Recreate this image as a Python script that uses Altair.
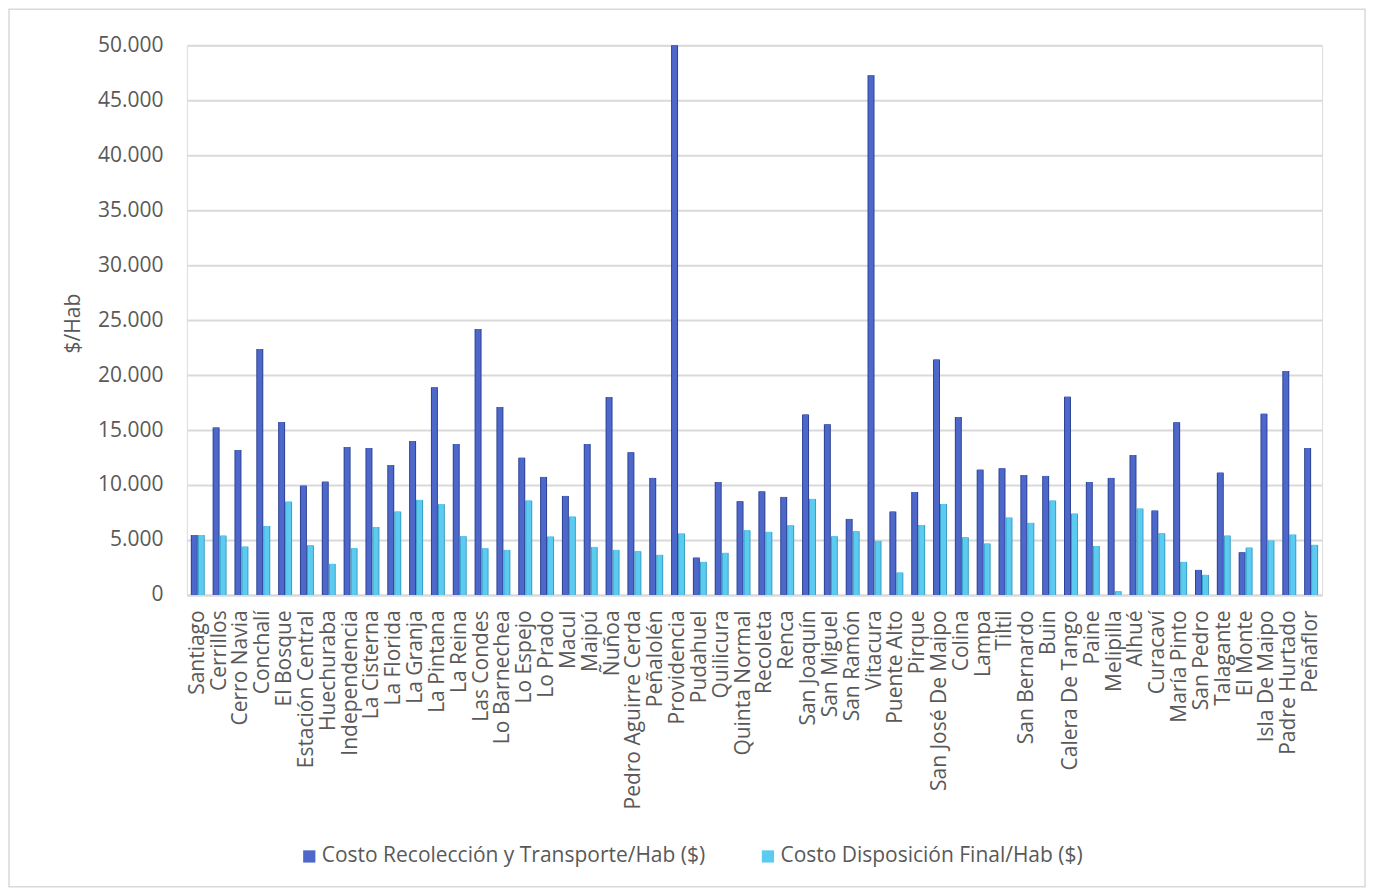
import altair as alt
import pandas as pd

comunas = ["Santiago", "Cerrillos", "Cerro Navia", "Conchalí", "El Bosque", "Estación Central",
           "Huechuraba", "Independencia", "La Cisterna", "La Florida", "La Granja", "La Pintana",
           "La Reina", "Las Condes", "Lo Barnechea", "Lo Espejo", "Lo Prado", "Macul", "Maipú",
           "Ñuñoa", "Pedro Aguirre Cerda", "Peñalolén", "Providencia", "Pudahuel", "Quilicura",
           "Quinta Normal", "Recoleta", "Renca", "San Joaquín", "San Miguel", "San Ramón",
           "Vitacura", "Puente Alto", "Pirque", "San José De Maipo", "Colina", "Lampa", "Tiltil",
           "San Bernardo", "Buin", "Calera De Tango", "Paine", "Melipilla", "Alhué", "Curacaví",
           "María Pinto", "San Pedro", "Talagante", "El Monte", "Isla De Maipo", "Padre Hurtado",
           "Peñaflor"]

recoleccion = [5450, 15240, 13180, 22360, 15730, 9940, 10300, 13450, 13360, 11820, 14000, 18900,
               13730, 24200, 17090, 12480, 10730, 9000, 13730, 18000, 12970, 10640, 50000, 3390,
               10270, 8520, 9420, 8910, 16420, 15520, 6910, 47270, 7580, 9360, 21420, 16180, 11390,
               11520, 10910, 10820, 18030, 10270, 10640, 12730, 7670, 15700, 2270, 11120, 3880,
               16480, 20360, 13360]

disposicion = [5450, 5390, 4390, 6270, 8480, 4510, 2820, 4240, 6180, 7580, 8640, 8240,
               5330, 4240, 4090, 8580, 5300, 7120, 4360, 4090, 3970, 3640, 5580, 3000,
               3820, 5880, 5730, 6330, 8730, 5330, 5790, 4910, 2030, 6360, 8270, 5240, 4670,
               7030, 6550, 8580, 7390, 4450, 330, 7850, 5610, 3000, 1820, 5390, 4300,
               4940, 5480, 4550]

series = ["Costo Recolección y Transporte/Hab ($)", "Costo Disposición Final/Hab ($)"]
y_ticks = [0, 5000, 10000, 15000, 20000, 25000, 30000, 35000, 40000, 45000, 50000]

rows = []
for c, r, d in zip(comunas, recoleccion, disposicion):
    rows.append({"comuna": c, "serie": series[0], "valor": r})
    rows.append({"comuna": c, "serie": series[1], "valor": d})
df = pd.DataFrame(rows)

main_colors = ["#4D67CA", "#5CCBF2"]
side_colors = ["#2E4494", "#3A9FC2"]

FONT = "Open Sans"
GRAY = "#595959"
W, H = 1136, 550
PL, PT, PR, PB = 179, 37, 44, 293

xenc = alt.X("comuna:N", sort=comunas,
             scale=alt.Scale(paddingInner=0.36, paddingOuter=0.18),
             axis=alt.Axis(title=None, labelAngle=-90, labelFont=FONT, labelFontSize=21,
                           labelColor=GRAY, labelPadding=15, ticks=False, tickSize=0,
                           domain=True, domainColor="#D9D9D9", domainWidth=2,
                           labelOverlap=False, labelBound=False, labelLimit=500))
yenc = alt.Y("valor:Q", scale=alt.Scale(domain=[0, 50000], nice=False),
             axis=alt.Axis(title="$/Hab", values=y_ticks,
                           labelExpr="replace(format(datum.value, ',d'), ',', '.')",
                           labelFont=FONT, labelFontSize=21, labelColor=GRAY,
                           labelPadding=24, ticks=False, tickSize=0, domain=False,
                           grid=True, gridColor="#D9D9D9", gridWidth=2,
                           titleFont=FONT, titleFontSize=21, titleColor=GRAY,
                           titleFontWeight="normal", titleX=-113, titleY=278,
                           titleAngle=-90, titleBaseline="middle", titleAlign="center"))
xoff = alt.XOffset("serie:N", sort=series, scale=alt.Scale(domain=series))

side = alt.Chart(df).mark_bar().encode(
    x=xenc, y=yenc, xOffset=xoff,
    color=alt.Color("serie:N", scale=alt.Scale(domain=series, range=side_colors), legend=None),
)

front = alt.Chart(df).mark_bar(size=5, xOffset=-1).encode(
    x=xenc, y=yenc, xOffset=xoff,
    color=alt.Color("serie:N", sort=series,
                    scale=alt.Scale(domain=series, range=main_colors),
                    legend=alt.Legend(title=None, orient="none", legendX=112, legendY=801,
                                      direction="horizontal", symbolType="square",
                                      symbolSize=150, symbolStrokeWidth=0,
                                      labelFont=FONT, labelFontSize=21, labelColor=GRAY,
                                      columnPadding=52, labelLimit=500, labelOffset=2)),
)

frame = alt.Chart(alt.Data(values=[{}])).mark_rect(
    fill=None, stroke="#D9D9D9", strokeWidth=1.5
).encode(
    x=alt.value(-PL + 1), x2=alt.value(W + PR - 1),
    y=alt.value(-PT + 1), y2=alt.value(H + PB - 1),
)

chart = alt.layer(frame, side, front).resolve_scale(color="independent").properties(
    width=W, height=H,
    autosize=alt.AutoSizeParams(type="none"),
    padding={"left": PL, "top": PT, "right": PR, "bottom": PB},
).configure_view(stroke=None).configure(background="white")

chart.save("out.html", embed_options={"renderer": "svg", "actions": False})
